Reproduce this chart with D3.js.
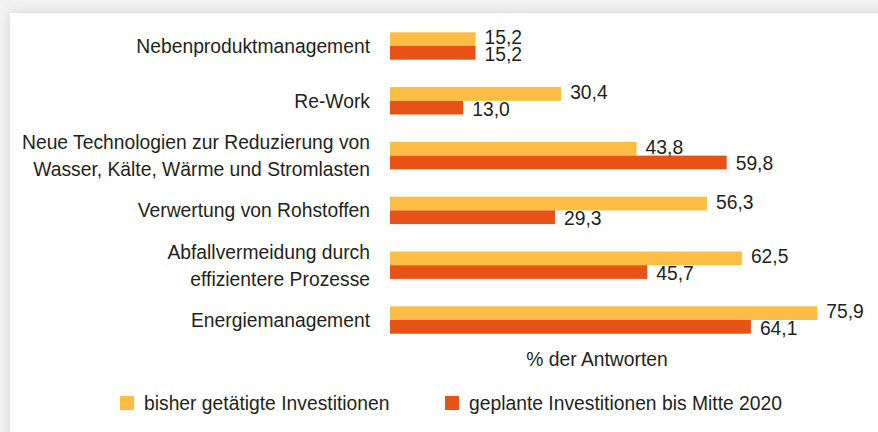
<!DOCTYPE html>
<html>
<head>
<meta charset="utf-8">
<script src="https://cdn.jsdelivr.net/npm/d3@7"></script>
<style>
  html, body { margin: 0; padding: 0; background: #f3f3f3; }
  svg { display: block; }
  text { font-family: "Liberation Sans", Arial, Helvetica, sans-serif; fill: #231f20; }
</style>
</head>
<body>
<svg id="chart" width="878" height="432"></svg>
<script>
const categories = [
  ["Nebenproduktmanagement"],
  ["Re-Work"],
  ["Neue Technologien zur Reduzierung von", "Wasser, Kälte, Wärme und Stromlasten"],
  ["Verwertung von Rohstoffen"],
  ["Abfallvermeidung durch", "effizientere Prozesse"],
  ["Energiemanagement"]
];
const seriesNames = ["bisher getätigte Investitionen", "geplante Investitionen bis Mitte 2020"];
const bisher = [15.2, 30.4, 43.8, 56.3, 62.5, 75.9];
const geplant = [15.2, 13.0, 59.8, 29.3, 45.7, 64.1];
const axisTitle = "% der Antworten";
const colors = ["#fbbd44", "#e85217"];

const FS = 19.3;
const fmt = v => v.toFixed(1).replace(".", ",");
const svg = d3.select("#chart");

// card with shadow
const defs = svg.append("defs");
const f = defs.append("filter").attr("id", "sh").attr("x", "-10%").attr("y", "-10%").attr("width", "120%").attr("height", "120%");
f.append("feDropShadow").attr("dx", 0).attr("dy", 0).attr("stdDeviation", 6).attr("flood-color", "#000").attr("flood-opacity", 0.14);
svg.append("rect").attr("x", 10).attr("y", 13).attr("width", 900).attr("height", 460).attr("fill", "#fff").attr("filter", "url(#sh)");

const keys = categories.map((c, i) => "c" + i);
const x = d3.scaleLinear().domain([0, 80]).range([390, 390 + 80 * 5.63]);
const y = d3.scaleBand().domain(keys).range([18.6, 347.4]).paddingInner(0.5).paddingOuter(0.25);
const ys = d3.scaleBand().domain([0, 1]).range([0, y.bandwidth()]);

const rows = keys.map((k, i) => ({ key: k, label: categories[i], vals: [bisher[i], geplant[i]] }));

const g = svg.append("g");
const row = g.selectAll("g.row").data(rows).join("g").attr("class", "row")
  .attr("transform", d => `translate(0,${y(d.key)})`);

row.selectAll("rect").data(d => d.vals.map((v, j) => ({ v, j }))).join("rect")
  .attr("x", x(0))
  .attr("y", d => ys(d.j))
  .attr("width", d => x(d.v) - x(0))
  .attr("height", ys.bandwidth())
  .attr("fill", d => colors[d.j]);

row.selectAll("text.val").data(d => d.vals.map((v, j) => ({ v, j }))).join("text")
  .attr("class", "val")
  .attr("x", d => x(d.v) + 9)
  .attr("y", d => ys(d.j) + ys.bandwidth() / 2 + (d.j === 0 ? -2 : 1))
  .attr("dy", "0.36em")
  .attr("font-size", FS)
  .text(d => fmt(d.v));

// category labels
row.each(function(d) {
  const t = d3.select(this).append("text")
    .attr("x", 370)
    .attr("text-anchor", "end")
    .attr("font-size", FS);
  const n = d.label.length;
  d.label.forEach((line, li) => {
    t.append("tspan").attr("x", 370)
      .attr("y", y.bandwidth() / 2 + (li - (n - 1) / 2) * 27)
      .attr("dy", "0.36em")
      .text(line);
  });
});

// axis title
g.append("text").attr("x", 597).attr("y", 366).attr("text-anchor", "middle").attr("font-size", FS).text(axisTitle);

// legend
const legendX = [120, 445];
const leg = g.selectAll("g.leg").data(seriesNames).join("g").attr("class", "leg")
  .attr("transform", (d, i) => `translate(${legendX[i]},396)`);
leg.append("rect").attr("width", 14).attr("height", 14).attr("fill", (d, i) => colors[i]);
leg.append("text").attr("x", 24).attr("y", 7).attr("dy", "0.36em").attr("font-size", FS).text(d => d);
</script>
</body>
</html>
